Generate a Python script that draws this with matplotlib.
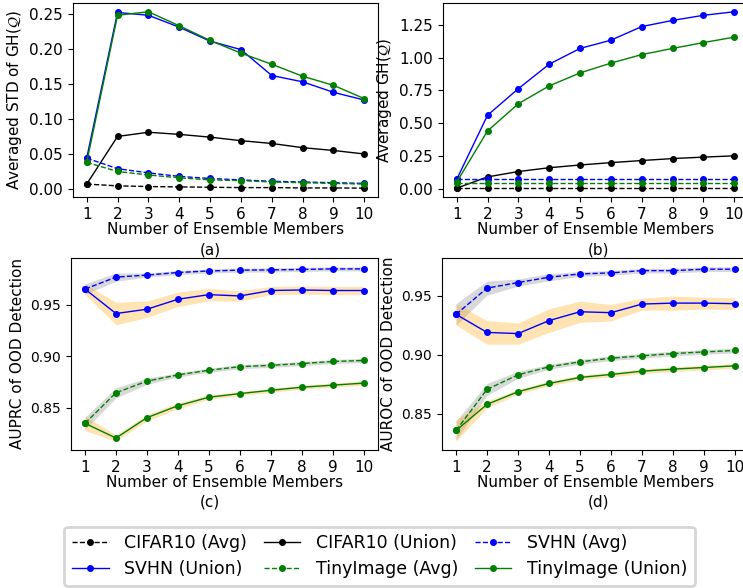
import numpy as np
import matplotlib.pyplot as plt

# ---------------------------------------------------- data

members = [1, 2, 3, 4, 5, 6, 7, 8, 9, 10]

# (a) averaged STD of GH(Q)
std_cifar_avg   = [0.007, 0.0045, 0.0035, 0.003, 0.0025, 0.002, 0.002, 0.0015, 0.0015, 0.0012]
std_cifar_union = [0.007, 0.075, 0.081, 0.078, 0.074, 0.069, 0.065, 0.059, 0.055, 0.050]
std_svhn_avg    = [0.044, 0.029, 0.023, 0.018, 0.015, 0.013, 0.011, 0.010, 0.009, 0.008]
std_svhn_union  = [0.044, 0.252, 0.248, 0.231, 0.211, 0.199, 0.162, 0.153, 0.138, 0.127]
std_tiny_avg    = [0.038, 0.025, 0.020, 0.016, 0.013, 0.012, 0.010, 0.009, 0.008, 0.007]
std_tiny_union  = [0.038, 0.248, 0.253, 0.233, 0.212, 0.194, 0.178, 0.161, 0.148, 0.129]

# (b) averaged GH(Q)
gh_cifar_avg   = [0.004, 0.004, 0.004, 0.004, 0.004, 0.004, 0.004, 0.004, 0.004, 0.004]
gh_cifar_union = [0.003, 0.089, 0.13, 0.159, 0.18, 0.198, 0.214, 0.229, 0.24, 0.25]
gh_svhn_avg    = [0.07, 0.07, 0.07, 0.07, 0.07, 0.07, 0.07, 0.07, 0.07, 0.07]
gh_svhn_union  = [0.07, 0.56, 0.763, 0.95, 1.07, 1.133, 1.237, 1.284, 1.323, 1.35]
gh_tiny_avg    = [0.045, 0.045, 0.045, 0.045, 0.045, 0.045, 0.045, 0.045, 0.045, 0.045]
gh_tiny_union  = [0.05, 0.44, 0.648, 0.784, 0.883, 0.958, 1.023, 1.07, 1.115, 1.156]

# (c) AUPRC of OOD detection (mean, spread)
prc_svhn_avg      = [0.9654, 0.977, 0.979, 0.9815, 0.983, 0.9838, 0.984, 0.9845, 0.985, 0.985]
prc_svhn_avg_sd   = [0.005, 0.004, 0.002, 0.002, 0.002, 0.002, 0.002, 0.002, 0.002, 0.002]
prc_svhn_union    = [0.9654, 0.9416, 0.9458, 0.9555, 0.960, 0.9587, 0.964, 0.9645, 0.964, 0.964]
prc_svhn_union_sd = [0.005, 0.011, 0.008, 0.007, 0.006, 0.005, 0.004, 0.004, 0.004, 0.004]
prc_tiny_avg      = [0.8349, 0.8646, 0.8759, 0.882, 0.8865, 0.890, 0.8913, 0.893, 0.895, 0.896]
prc_tiny_avg_sd   = [0.006, 0.005, 0.003, 0.002, 0.002, 0.002, 0.002, 0.002, 0.002, 0.002]
prc_tiny_union    = [0.8349, 0.8206, 0.8404, 0.852, 0.8603, 0.8638, 0.867, 0.870, 0.872, 0.874]
prc_tiny_union_sd = [0.007, 0.003, 0.003, 0.003, 0.002, 0.002, 0.002, 0.002, 0.002, 0.002]

# (d) AUROC of OOD detection (mean, spread)
roc_svhn_avg      = [0.9343, 0.9565, 0.9612, 0.9657, 0.9685, 0.9694, 0.9713, 0.9713, 0.9725, 0.9725]
roc_svhn_avg_sd   = [0.009, 0.006, 0.003, 0.003, 0.002, 0.002, 0.002, 0.002, 0.002, 0.002]
roc_svhn_union    = [0.9343, 0.919, 0.918, 0.929, 0.9365, 0.9357, 0.943, 0.9438, 0.9438, 0.9433]
roc_svhn_union_sd = [0.009, 0.010, 0.009, 0.010, 0.009, 0.007, 0.005, 0.006, 0.005, 0.005]
roc_tiny_avg      = [0.836, 0.8708, 0.8831, 0.8899, 0.8941, 0.8972, 0.8992, 0.9011, 0.9025, 0.9037]
roc_tiny_avg_sd   = [0.008, 0.005, 0.003, 0.002, 0.002, 0.002, 0.002, 0.002, 0.002, 0.002]
roc_tiny_union    = [0.836, 0.8581, 0.8688, 0.8758, 0.8809, 0.8834, 0.8862, 0.8879, 0.8893, 0.8907]
roc_tiny_union_sd = [0.009, 0.003, 0.002, 0.002, 0.002, 0.002, 0.002, 0.002, 0.002, 0.002]

xlabel = 'Number of Ensemble Members'

# ---------------------------------------------------- plot

plt.rcParams['font.size'] = 11
fig = plt.figure(figsize=(7.43, 5.88), dpi=100)

ax_a = fig.add_axes([0.098, 0.665, 0.411, 0.330])
ax_b = fig.add_axes([0.596, 0.665, 0.411, 0.330])
ax_c = fig.add_axes([0.0956, 0.235, 0.413, 0.326])
ax_d = fig.add_axes([0.595, 0.235, 0.413, 0.326])

kw = dict(marker='o', markersize=4, lw=1)

# (a)
ax_a.plot(members, std_cifar_avg, 'k--', label='CIFAR10 (Avg)', **kw)
ax_a.plot(members, std_cifar_union, 'k-', label='CIFAR10 (Union)', **kw)
ax_a.plot(members, std_svhn_avg, 'b--', label='SVHN (Avg)', **kw)
ax_a.plot(members, std_svhn_union, 'b-', label='SVHN (Union)', **kw)
ax_a.plot(members, std_tiny_avg, 'g--', label='TinyImage (Avg)', **kw)
ax_a.plot(members, std_tiny_union, 'g-', label='TinyImage (Union)', **kw)
ax_a.set_ylabel(r'Averaged STD of GH($\mathcal{Q}$)')

# (b)
ax_b.plot(members, gh_cifar_avg, 'k--', **kw)
ax_b.plot(members, gh_cifar_union, 'k-', **kw)
ax_b.plot(members, gh_svhn_avg, 'b--', **kw)
ax_b.plot(members, gh_svhn_union, 'b-', **kw)
ax_b.plot(members, gh_tiny_avg, 'g--', **kw)
ax_b.plot(members, gh_tiny_union, 'g-', **kw)
ax_b.set_ylabel(r'Averaged GH($\mathcal{Q}$)')
ax_b.set_yticks([0.0, 0.25, 0.5, 0.75, 1.0, 1.25])


def band(ax, y, sd, color):
    y = np.array(y)
    sd = np.array(sd)
    ax.fill_between(members, y - sd, y + sd, color=color, alpha=0.3, lw=0)


# (c)
band(ax_c, prc_svhn_avg, prc_svhn_avg_sd, 'gray')
band(ax_c, prc_svhn_union, prc_svhn_union_sd, 'orange')
band(ax_c, prc_tiny_avg, prc_tiny_avg_sd, 'gray')
band(ax_c, prc_tiny_union, prc_tiny_union_sd, 'orange')
ax_c.plot(members, prc_svhn_avg, 'b--', **kw)
ax_c.plot(members, prc_svhn_union, 'b-', **kw)
ax_c.plot(members, prc_tiny_avg, 'g--', **kw)
ax_c.plot(members, prc_tiny_union, 'g-', **kw)
ax_c.set_ylabel('AUPRC of OOD Detection')
ax_c.set_yticks([0.85, 0.90, 0.95])

# (d)
band(ax_d, roc_svhn_avg, roc_svhn_avg_sd, 'gray')
band(ax_d, roc_svhn_union, roc_svhn_union_sd, 'orange')
band(ax_d, roc_tiny_avg, roc_tiny_avg_sd, 'gray')
band(ax_d, roc_tiny_union, roc_tiny_union_sd, 'orange')
ax_d.plot(members, roc_svhn_avg, 'b--', **kw)
ax_d.plot(members, roc_svhn_union, 'b-', **kw)
ax_d.plot(members, roc_tiny_avg, 'g--', **kw)
ax_d.plot(members, roc_tiny_union, 'g-', **kw)
ax_d.set_ylabel('AUROC of OOD Detection')
ax_d.set_yticks([0.85, 0.90, 0.95])

for ax in (ax_a, ax_b, ax_c, ax_d):
    ax.set_xticks(members)
    ax.set_xlabel(xlabel, labelpad=0)
for ax in (ax_c, ax_d):
    ax.tick_params(axis='y', labelsize=10)

fig.text(0.283, 0.575, '(a)', ha='center', va='center')
fig.text(0.805, 0.575, '(b)', ha='center', va='center')
fig.text(0.283, 0.146, '(c)', ha='center', va='center')
fig.text(0.806, 0.146, '(d)', ha='center', va='center')

# legend, filled row by row
h, l = ax_a.get_legend_handles_labels()
order = [0, 3, 1, 4, 2, 5]
leg = fig.legend([h[i] for i in order], [l[i] for i in order], ncol=3,
                 loc='center', bbox_to_anchor=(0.511, 0.054), fontsize=12.5,
                 handlelength=2.1, columnspacing=0.95, handletextpad=0.9,
                 borderpad=0.45, labelspacing=0.45)
leg.get_frame().set_linewidth(2)

plt.savefig('out.png', dpi=100)
plt.close()
